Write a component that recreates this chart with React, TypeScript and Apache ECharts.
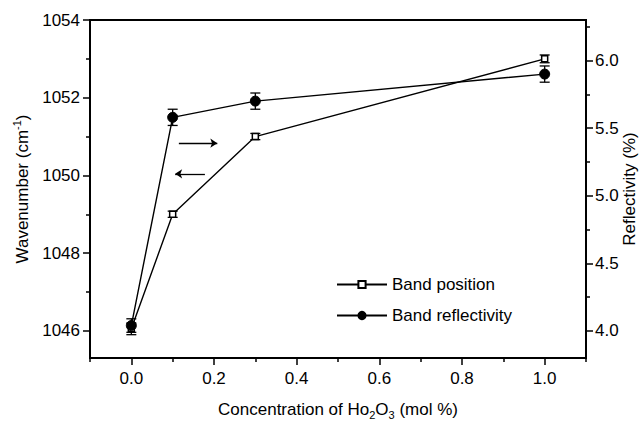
import React, { useEffect, useRef } from "react";
import * as echarts from "echarts";

// Ho2O3 concentration (mol %)
const concentration = [0, 0.1, 0.3, 1.0];
// Band position on the left axis (cm^-1) and its error
const bandPosition = [1046.05, 1049.0, 1051.0, 1053.0];
const positionError = [0.15, 0.08, 0.08, 0.1];
// Band reflectivity on the right axis (%) and its error
const bandReflectivity = [4.04, 5.58, 5.7, 5.9];
const reflectivityError = [0.05, 0.06, 0.06, 0.06];

// Tick values
const xMajorTicks = [0, 0.2, 0.4, 0.6, 0.8, 1.0];
const xMinorTicks = [-0.1, 0.1, 0.3, 0.5, 0.7, 0.9, 1.1];
const leftMajorTicks = [1046, 1048, 1050, 1052, 1054];
const leftMinorTicks = [1047, 1049, 1051, 1053];
const rightMajorTicks = [4.0, 4.5, 5.0, 5.5, 6.0];
const rightMinorTicks = [4.25, 4.75, 5.25, 5.75, 6.25];

// Arrows pointing each curve to its axis: [x0, x1, y on left axis]
const toRightArrow = [0.115, 0.208, 1050.83];
const toLeftArrow = [0.178, 0.106, 1050.04];

const FONT = "'Liberation Sans', Arial, sans-serif";
const BLACK = "#000";

function errorBarItem(params: any, api: any) {
  const x = api.value(0);
  const lo = api.coord([x, api.value(1)]);
  const hi = api.coord([x, api.value(2)]);
  const hw = 5;
  const style = { stroke: BLACK, lineWidth: 1.3 };
  return {
    type: "group",
    children: [
      { type: "line", shape: { x1: lo[0], y1: lo[1], x2: hi[0], y2: hi[1] }, style },
      { type: "line", shape: { x1: lo[0] - hw, y1: lo[1], x2: lo[0] + hw, y2: lo[1] }, style },
      { type: "line", shape: { x1: hi[0] - hw, y1: hi[1], x2: hi[0] + hw, y2: hi[1] }, style },
    ],
  };
}

export default function App() {
  const ref = useRef<HTMLDivElement>(null);

  useEffect(() => {
    if (!ref.current) return;
    const chart = echarts.init(ref.current, undefined, { renderer: "svg" });

    const axisLine = { show: true, onZero: false, lineStyle: { color: BLACK, width: 2 } };
    const hiddenLine = { show: false, onZero: false };
    const tickLine = { color: BLACK, width: 1.5 };
    const labelStyle = { color: BLACK, fontSize: 17, fontFamily: FONT };

    const xRange = { min: -0.1, max: 1.1 };
    const leftRange = { min: 1045.3, max: 1054 };
    const rightRange = { min: 3.8, max: 6.3 };

    const option: any = {
      animation: false,
      backgroundColor: "#fff",
      textStyle: { fontFamily: FONT, color: BLACK },
      grid: {
        left: 90,
        right: 56,
        top: 20,
        bottom: 65,
        containLabel: false,
        outerBoundsMode: "none",
        show: true,
        borderColor: BLACK,
        borderWidth: 2,
        backgroundColor: "transparent",
      },
      legend: {
        orient: "vertical",
        left: 336,
        top: 276,
        padding: 0,
        itemWidth: 50,
        itemHeight: 9,
        itemGap: 14,
        textStyle: { ...labelStyle, fontSize: 17 },
        data: ["Band position", "Band reflectivity"],
      },
      xAxis: [
        {
          type: "value",
          ...xRange,
          position: "bottom",
          axisLine,
          axisTick: { show: true, length: 4, customValues: xMinorTicks, lineStyle: tickLine },
          axisLabel: { show: false },
          splitLine: { show: false },
        },
        {
          type: "value",
          ...xRange,
          position: "bottom",
          axisLine: hiddenLine,
          axisTick: { show: true, length: 7, customValues: xMajorTicks, lineStyle: tickLine },
          axisLabel: {
            ...labelStyle,
            margin: 12,
            customValues: xMajorTicks,
            formatter: (v: number) => v.toFixed(1),
          },
          splitLine: { show: false },
          name: "Concentration of Ho{sub|2}O{sub|3} (mol %)",
          nameLocation: "middle",
          nameMoveOverlap: false,
          nameGap: 40,
          nameTextStyle: {
            ...labelStyle,
            lineHeight: 22,
            rich: { sub: { fontSize: 11, lineHeight: 11, verticalAlign: "bottom", fontFamily: FONT, color: BLACK } },
          },
        },
      ],
      yAxis: [
        {
          type: "value",
          ...leftRange,
          position: "left",
          axisLine,
          axisTick: { show: true, length: 7, customValues: leftMajorTicks, lineStyle: tickLine },
          axisLabel: {
            ...labelStyle,
            margin: 10,
            customValues: leftMajorTicks,
            formatter: (v: number) => String(v),
          },
          splitLine: { show: false },
          name: "Wavenumber (cm{sup|-1})",
          nameLocation: "middle",
          nameMoveOverlap: false,
          nameGap: 57,
          nameTextStyle: {
            ...labelStyle,
            lineHeight: 22,
            rich: { sup: { fontSize: 11, lineHeight: 11, verticalAlign: "top", fontFamily: FONT, color: BLACK } },
          },
        },
        {
          type: "value",
          ...leftRange,
          position: "left",
          axisLine: hiddenLine,
          axisTick: { show: true, length: 4, customValues: leftMinorTicks, lineStyle: tickLine },
          axisLabel: { show: false },
          splitLine: { show: false },
        },
        {
          type: "value",
          ...rightRange,
          position: "right",
          axisLine,
          axisTick: { show: true, length: 7, customValues: rightMajorTicks, lineStyle: tickLine },
          axisLabel: {
            ...labelStyle,
            margin: 9,
            customValues: rightMajorTicks,
            formatter: (v: number) => v.toFixed(1),
          },
          splitLine: { show: false },
          name: "Reflectivity (%)",
          nameLocation: "middle",
          nameMoveOverlap: false,
          nameGap: 32,
          nameTextStyle: { ...labelStyle, lineHeight: 22 },
        },
        {
          type: "value",
          ...rightRange,
          position: "right",
          axisLine: hiddenLine,
          axisTick: { show: true, length: 4, customValues: rightMinorTicks, lineStyle: tickLine },
          axisLabel: { show: false },
          splitLine: { show: false },
        },
      ],
      series: [
        {
          name: "Band position",
          type: "line",
          xAxisIndex: 0,
          yAxisIndex: 0,
          data: concentration.map((c, i) => [c, bandPosition[i]]),
          symbol: "rect",
          symbolSize: 6,
          z: 4,
          lineStyle: { color: BLACK, width: 1.4 },
          itemStyle: { color: "#fff", borderColor: BLACK, borderWidth: 1.5 },
          markLine: {
            silent: true,
            symbol: ["none", "arrow"],
            symbolSize: [7, 7],
            label: { show: false },
            lineStyle: { color: BLACK, width: 1.3, type: "solid" },
            data: [
              [{ coord: [toRightArrow[0], toRightArrow[2]] }, { coord: [toRightArrow[1], toRightArrow[2]] }],
              [{ coord: [toLeftArrow[0], toLeftArrow[2]] }, { coord: [toLeftArrow[1], toLeftArrow[2]] }],
            ],
          },
        },
        {
          name: "Band reflectivity",
          type: "line",
          xAxisIndex: 0,
          yAxisIndex: 2,
          data: concentration.map((c, i) => [c, bandReflectivity[i]]),
          symbol: "circle",
          symbolSize: 10,
          z: 4,
          lineStyle: { color: BLACK, width: 1.4 },
          itemStyle: { color: BLACK, borderColor: BLACK, borderWidth: 1 },
        },
        {
          name: "position error",
          type: "custom",
          xAxisIndex: 0,
          yAxisIndex: 0,
          z: 3,
          silent: true,
          renderItem: errorBarItem,
          encode: { x: 0, y: [1, 2] },
          data: concentration.map((c, i) => [c, bandPosition[i] - positionError[i], bandPosition[i] + positionError[i]]),
        },
        {
          name: "reflectivity error",
          type: "custom",
          xAxisIndex: 0,
          yAxisIndex: 2,
          z: 3,
          silent: true,
          renderItem: errorBarItem,
          encode: { x: 0, y: [1, 2] },
          data: concentration.map((c, i) => [
            c,
            bandReflectivity[i] - reflectivityError[i],
            bandReflectivity[i] + reflectivityError[i],
          ]),
        },
      ],
    };

    chart.setOption(option);
    return () => chart.dispose();
  }, []);

  return (
    <div
      ref={ref}
      style={{ position: "fixed", left: 0, top: 0, width: 642, height: 423, background: "#fff" }}
    />
  );
}
